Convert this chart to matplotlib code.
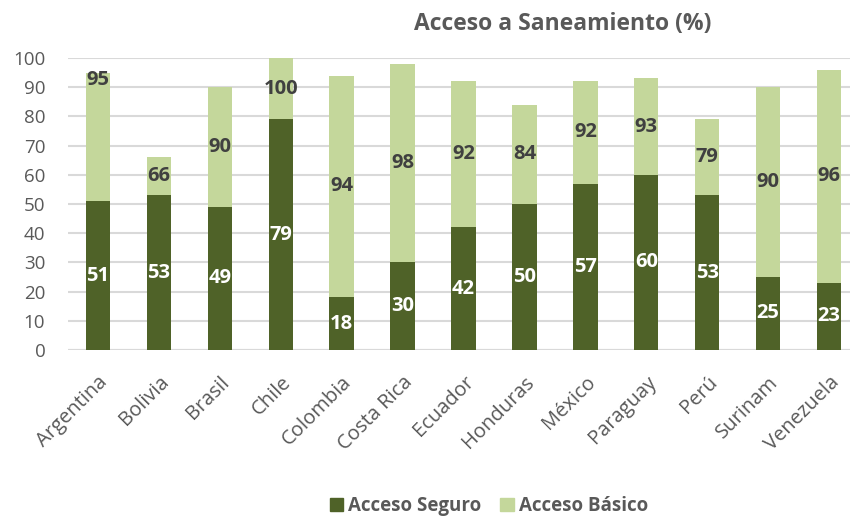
import matplotlib.pyplot as plt
import numpy as np
from matplotlib.patches import Patch

plt.rcParams["font.family"] = ["Open Sans", "DejaVu Sans"]

paises = ["Argentina", "Bolivia", "Brasil", "Chile", "Colombia", "Costa Rica",
          "Ecuador", "Honduras", "México", "Paraguay", "Perú", "Surinam", "Venezuela"]
acceso_seguro = [51, 53, 49, 79, 18, 30, 42, 50, 57, 60, 53, 25, 23]
acceso_basico = [95, 66, 90, 100, 94, 98, 92, 84, 92, 93, 79, 90, 96]

DARK = "#4F6228"
LIGHT = "#C4D79B"
TEXT = "#595959"
GRID = "#D9D9D9"

fig = plt.figure(figsize=(8.5, 5.21), dpi=100)
ax = fig.add_axes([67.5 / 850, 1 - 350 / 521, 792 / 850, 292 / 521])

x = np.arange(len(paises))
width = 0.4
ax.bar(x, acceso_basico, width, color=LIGHT, zorder=2)
ax.bar(x, acceso_seguro, width, color=DARK, zorder=3)

for i, (s, b) in enumerate(zip(acceso_seguro, acceso_basico)):
    ax.text(i, s / 2, str(s), ha="center", va="center", color="white",
            fontsize=14.5, fontweight="bold", zorder=4)
    # Argentina's label was dragged to the top of its bar in the original
    yb = b - 2.5 if i == 0 else (s + b) / 2
    ax.text(i, yb, str(b), ha="center", va="center", color="#404040",
            fontsize=14.5, fontweight="bold", zorder=4)

ax.set_xlim(-0.5, len(paises) - 0.5)
ax.set_ylim(0, 100)
ax.set_yticks(range(0, 101, 10))
ax.yaxis.grid(True, color=GRID, linewidth=1.5, zorder=0)
ax.set_axisbelow(True)
for side in ["top", "right", "left", "bottom"]:
    ax.spines[side].set_visible(False)
ax.axhline(0, color=GRID, linewidth=1.5, zorder=1)
ax.tick_params(axis="both", length=0, colors=TEXT, labelsize=13.5)
ax.tick_params(axis="y", pad=16)
ax.set_xticks(x)
ax.set_xticklabels(paises, rotation=45, ha="right", rotation_mode="anchor",
                   fontsize=14.5)
ax.tick_params(axis="x", pad=16)

fig.text(563 / 850, 1 - 24 / 521, "Acceso a Saneamiento (%)", ha="center",
         va="center", fontsize=16.5, fontweight="bold", color=TEXT)

handles = [Patch(color=DARK, label="Acceso Seguro"),
           Patch(color=LIGHT, label="Acceso Básico")]
leg = fig.legend(handles=handles, loc="center", bbox_to_anchor=(489 / 850, 1 - 506 / 521),
                 ncol=2, frameon=False, handlelength=0.7, handleheight=0.7,
                 handletextpad=0.3, columnspacing=1.0,
                 prop={"size": 13.5, "weight": "bold"})
for t in leg.get_texts():
    t.set_color(TEXT)

fig.savefig("out.png", dpi=100)
